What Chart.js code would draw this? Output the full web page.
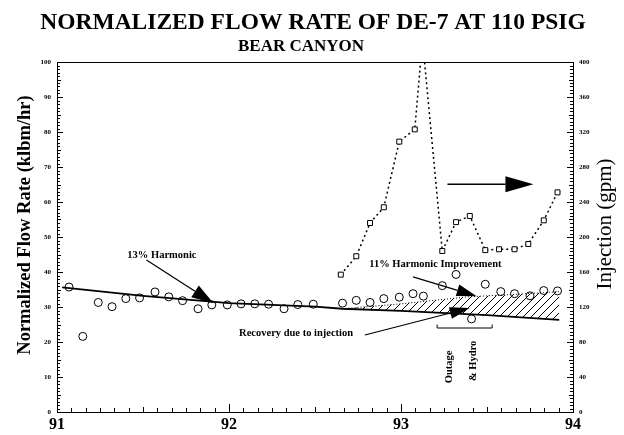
<!DOCTYPE html>
<html>
<head>
<meta charset="utf-8">
<script src="https://cdn.jsdelivr.net/npm/chart.js@4.4.0/dist/chart.umd.min.js"></script>
<style>
  body { margin: 0; background: #fff; }
  #wrap { width: 624px; height: 435px; position: relative; }
</style>
</head>
<body>
<div id="wrap"><canvas id="myChart"></canvas></div>
<script>
// normalized flow rate (klbm/hr), circles
var flowX = [91.07, 91.15, 91.24, 91.32, 91.40, 91.48, 91.57, 91.65, 91.73, 91.82, 91.90, 91.99,
             92.07, 92.15, 92.23, 92.32, 92.40, 92.49, 92.66, 92.74, 92.82, 92.90, 92.99,
             93.07, 93.13, 93.24, 93.32, 93.41, 93.49, 93.58, 93.66, 93.75, 93.83, 93.91];
var flowY = [35.7, 21.6, 31.3, 30.1, 32.4, 32.6, 34.3, 32.9, 31.8, 29.5, 30.6, 30.6,
             30.9, 30.9, 30.8, 29.5, 30.7, 30.8, 31.1, 31.9, 31.3, 32.4, 32.8,
             33.8, 33.1, 36.1, 39.3, 26.6, 36.5, 34.4, 33.8, 33.2, 34.7, 34.6];

// injection (gpm), squares on right axis
var injX = [92.65, 92.74, 92.82, 92.90, 92.99, 93.08, 93.125, 93.24, 93.32, 93.40,
            93.49, 93.57, 93.66, 93.74, 93.83, 93.91];
var injY = [157, 178, 216, 234, 309, 323, 425, 184, 217, 224,
            185, 186, 186, 192, 219, 251];

// 13% harmonic decline line
var trendX = [91.03, 91.5, 92.0, 92.5, 92.66, 93.0, 93.5, 93.92];
var trendY = [35.6, 33.2, 31.1, 30.1, 29.5, 28.9, 27.7, 26.3];

// 11% harmonic improvement line (top of hatched area)
var improveX = [92.66, 93.0, 93.39, 93.66, 93.92];
var improveY = [29.5, 30.9, 32.9, 33.6, 34.4];

var years = [91, 92, 93, 94];

var serif = "'Liberation Serif', 'Times New Roman', serif";

function pts(xs, ys) {
  return xs.map(function (x, i) { return { x: x, y: ys[i] }; });
}

function hatch() {
  var c = document.createElement('canvas');
  c.width = 8; c.height = 8;
  var g = c.getContext('2d');
  g.strokeStyle = '#000';
  g.lineWidth = 1;
  g.beginPath();
  g.moveTo(0, 8); g.lineTo(8, 0);
  g.moveTo(-2, 2); g.lineTo(2, -2);
  g.moveTo(6, 10); g.lineTo(10, 6);
  g.stroke();
  return g.createPattern(c, 'repeat');
}

function arrow(ctx, x1, y1, x2, y2, len, half) {
  var a = Math.atan2(y2 - y1, x2 - x1);
  var bx = x2 - len * Math.cos(a), by = y2 - len * Math.sin(a);
  ctx.beginPath();
  ctx.moveTo(x1, y1);
  ctx.lineTo(bx, by);
  ctx.stroke();
  ctx.beginPath();
  ctx.moveTo(x2, y2);
  ctx.lineTo(bx + half * Math.sin(a), by - half * Math.cos(a));
  ctx.lineTo(bx - half * Math.sin(a), by + half * Math.cos(a));
  ctx.closePath();
  ctx.fill();
}

function vtext(ctx, str, x, y, font) {
  ctx.save();
  ctx.translate(x, y);
  ctx.rotate(-Math.PI / 2);
  ctx.font = font;
  ctx.textAlign = 'center';
  ctx.textBaseline = 'middle';
  ctx.fillText(str, 0, 0);
  ctx.restore();
}

var decor = {
  id: 'decor',
  afterDraw: function (chart) {
    var ctx = chart.ctx, a = chart.chartArea;
    var sx = chart.scales.x, sy = chart.scales.y, sy2 = chart.scales.y2;
    var X = function (v) { return sx.getPixelForValue(v); };
    var Y = function (v) { return sy.getPixelForValue(v); };
    ctx.save();
    ctx.fillStyle = '#000';
    ctx.strokeStyle = '#000';

    // titles
    ctx.textAlign = 'center';
    ctx.textBaseline = 'alphabetic';
    ctx.font = 'bold 23.5px ' + serif;
    ctx.fillText('NORMALIZED FLOW RATE OF DE-7 AT 110 PSIG', 313, 29);
    ctx.font = 'bold 17px ' + serif;
    ctx.fillText('BEAR CANYON', 301, 51);

    // axis titles
    vtext(ctx, 'Normalized Flow Rate (klbm/hr)', 25, 225, 'bold 18.5px ' + serif);
    vtext(ctx, 'Injection (gpm)', 605, 224, '21px ' + serif);

    // top border
    ctx.lineWidth = 1;
    ctx.beginPath();
    ctx.moveTo(a.left, a.top + 0.5);
    ctx.lineTo(a.right, a.top + 0.5);
    ctx.stroke();

    // inward ticks
    ctx.beginPath();
    var v, p, l;
    for (v = 0; v <= 100; v++) {
      p = Math.round(Y(v)) + 0.5;
      l = v % 10 === 0 ? 6 : (v % 5 === 0 ? 4 : 3);
      ctx.moveTo(a.left, p); ctx.lineTo(a.left + l, p);
    }
    for (v = 0; v <= 400; v += 4) {
      p = Math.round(sy2.getPixelForValue(v)) + 0.5;
      l = v % 40 === 0 ? 6 : (v % 20 === 0 ? 4 : 3);
      ctx.moveTo(a.right, p); ctx.lineTo(a.right - l, p);
    }
    for (v = 0; v <= 36; v++) {
      p = Math.round(X(91 + v / 12)) + 0.5;
      l = v % 12 === 0 ? 8 : (v % 6 === 0 ? 5 : 4);
      ctx.moveTo(p, a.bottom); ctx.lineTo(p, a.bottom - l);
    }
    ctx.stroke();

    // annotations
    ctx.font = 'bold 10.5px ' + serif;
    ctx.textAlign = 'center';
    ctx.textBaseline = 'middle';
    ctx.fillText('13% Harmonic', X(91.61), Y(44.9));
    ctx.fillText('11% Harmonic Improvement', X(93.20), Y(42.3));
    ctx.fillText('Recovery due to injection', X(92.39), Y(22.6));

    ctx.lineWidth = 1.2;
    arrow(ctx, X(91.52), Y(43.4), X(91.91), Y(31.1), 22, 7);
    arrow(ctx, X(93.07), Y(38.6), X(93.44), Y(33.1), 20, 6);
    arrow(ctx, X(92.79), Y(22.0), X(93.40), Y(29.7), 20, 6);
    ctx.lineWidth = 1.5;
    arrow(ctx, X(93.27), Y(65.1), X(93.77), Y(65.1), 28, 8);

    // outage bracket
    ctx.lineWidth = 1;
    ctx.beginPath();
    ctx.moveTo(X(93.21), Y(25.0));
    ctx.lineTo(X(93.21), Y(24.0));
    ctx.lineTo(X(93.53), Y(24.0));
    ctx.lineTo(X(93.53), Y(25.0));
    ctx.stroke();
    vtext(ctx, 'Outage', X(93.28), Y(12.9), 'bold 10.5px ' + serif);
    vtext(ctx, '& Hydro', X(93.42), Y(14.6), 'bold 10.5px ' + serif);

    ctx.restore();
  }
};

new Chart('myChart', {
  type: 'line',
  data: {
    datasets: [
      {
        label: 'Flow rate',
        data: pts(flowX, flowY),
        yAxisID: 'y',
        showLine: false,
        pointStyle: 'circle',
        pointRadius: 4,
        pointBorderWidth: 1,
        pointBorderColor: '#000',
        pointBackgroundColor: 'rgba(255,255,255,0)',
        order: 0
      },
      {
        label: 'Injection',
        data: pts(injX, injY),
        yAxisID: 'y2',
        borderColor: '#000',
        borderWidth: 1.5,
        borderDash: [2, 3],
        pointStyle: 'rect',
        pointRadius: 3.5,
        pointBorderWidth: 1,
        pointBorderColor: '#000',
        pointBackgroundColor: '#fff',
        order: 1
      },
      {
        label: '13% Harmonic',
        data: pts(trendX, trendY),
        yAxisID: 'y',
        borderColor: '#000',
        borderWidth: 1.8,
        pointRadius: 0,
        order: 2
      },
      {
        label: '11% Harmonic Improvement',
        data: pts(improveX, improveY),
        yAxisID: 'y',
        borderColor: '#000',
        borderWidth: 1,
        borderDash: [1, 2],
        pointRadius: 0,
        fill: { target: 2 },
        backgroundColor: hatch(),
        order: 3
      }
    ]
  },
  options: {
    responsive: true,
    maintainAspectRatio: false,
    animation: false,
    layout: { padding: { top: 62, left: 0, right: 0, bottom: 0 } },
    plugins: {
      legend: { display: false },
      tooltip: { enabled: false }
    },
    scales: {
      x: {
        type: 'linear',
        min: 91,
        max: 94,
        grid: { display: false, drawTicks: false },
        border: { color: '#000', width: 1 },
        ticks: {
          stepSize: 1,
          padding: 3,
          color: '#000',
          font: { family: serif, weight: 'bold', size: 16 },
          callback: function (v) { return years.indexOf(v) >= 0 ? String(v) : ''; }
        },
        afterFit: function (s) { s.height = 23; }
      },
      y: {
        position: 'left',
        min: 0,
        max: 100,
        grid: { display: false, drawTicks: false },
        border: { color: '#000', width: 1 },
        ticks: {
          stepSize: 10,
          padding: 6,
          color: '#000',
          font: { family: serif, weight: 'bold', size: 7 }
        },
        afterFit: function (s) { s.width = 57; }
      },
      y2: {
        position: 'right',
        min: 0,
        max: 400,
        grid: { display: false, drawTicks: false },
        border: { color: '#000', width: 1 },
        ticks: {
          stepSize: 40,
          padding: 6,
          color: '#000',
          font: { family: serif, weight: 'bold', size: 7 }
        },
        afterFit: function (s) { s.width = 51; }
      }
    }
  },
  plugins: [decor]
});
</script>
</body>
</html>
